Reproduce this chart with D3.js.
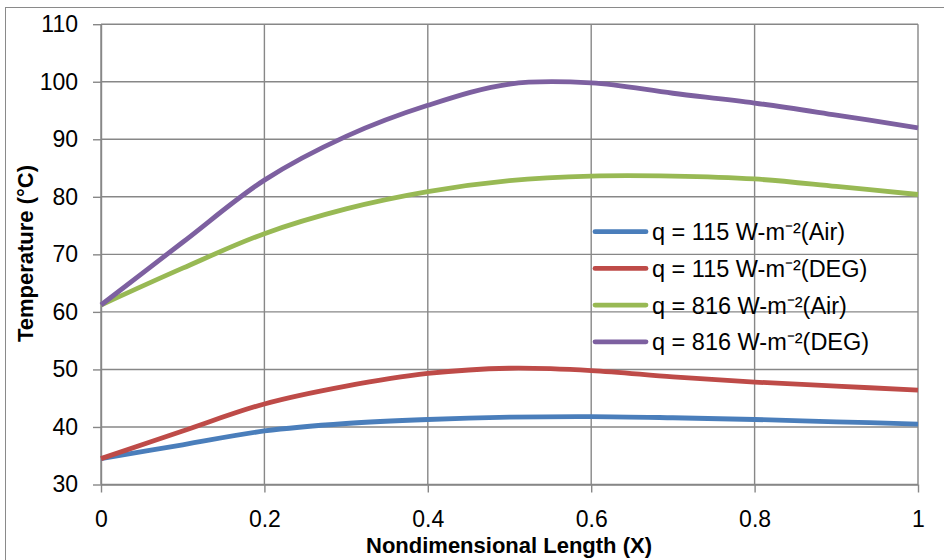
<!DOCTYPE html>
<html>
<head>
<meta charset="utf-8">
<script src="https://cdn.jsdelivr.net/npm/d3@7"></script>
<style>
  body { margin: 0; background: #fff; }
  svg { display: block; font-family: "Liberation Sans", Arial, sans-serif; }
</style>
</head>
<body>
<svg id="chart" width="944" height="560"></svg>
<script>
// values
var xs = [0, 0.1, 0.2, 0.3, 0.4, 0.5, 0.6, 0.7, 0.8, 0.9, 1.0];
var air115 = [34.5, 36.9, 39.3, 40.6, 41.3, 41.7, 41.8, 41.6, 41.3, 40.9, 40.5];
var deg115 = [34.5, 39.3, 44.0, 47.1, 49.3, 50.2, 49.8, 48.7, 47.8, 47.1, 46.4];
var air816 = [61.2, 67.6, 73.6, 77.9, 80.9, 82.8, 83.6, 83.6, 83.1, 81.8, 80.4];
var deg816 = [61.2, 72.1, 82.9, 90.5, 95.9, 99.6, 99.8, 98.0, 96.3, 94.2, 92.0];

var seriesNames = ['q = 115 W-m\u207B\u00B2(Air)', 'q = 115 W-m\u207B\u00B2(DEG)',
                   'q = 816 W-m\u207B\u00B2(Air)', 'q = 816 W-m\u207B\u00B2(DEG)'];
var seriesValues = [air115, deg115, air816, deg816];
var seriesColors = ['#4a7ebb', '#be4b48', '#98b954', '#7d60a0'];

var xTicks = [0, 0.2, 0.4, 0.6, 0.8, 1];
var yTicks = [30, 40, 50, 60, 70, 80, 90, 100, 110];

var svg = d3.select('#chart');
var gridColor = '#878787';

// outer chart border
svg.append('rect')
    .attr('x', 5.5).attr('y', 7.5)
    .attr('width', 960).attr('height', 580)
    .attr('fill', 'none')
    .attr('stroke', '#8a8a8a')
    .attr('stroke-width', 1);

var xScale = d3.scaleLinear().domain([0, 1]).range([101, 918]);
var yScale = d3.scaleLinear().domain([30, 110]).range([484.5, 24.2]);

var grid = svg.append('g');
grid.selectAll('line.h')
    .data(yTicks)
    .enter()
    .append('line')
      .attr('x1', xScale(0)).attr('x2', xScale(1))
      .attr('y1', function(d) { return yScale(d); })
      .attr('y2', function(d) { return yScale(d); })
      .attr('stroke', gridColor).attr('stroke-width', 1.4);
grid.selectAll('line.v')
    .data(xTicks)
    .enter()
    .append('line')
      .attr('y1', yScale(30)).attr('y2', yScale(110))
      .attr('x1', function(d) { return xScale(d); })
      .attr('x2', function(d) { return xScale(d); })
      .attr('stroke', gridColor).attr('stroke-width', 1.4);

var xAxis = d3.axisBottom(xScale)
    .tickValues(xTicks)
    .tickFormat(d3.format('~g'))
    .tickSize(8).tickSizeOuter(0).tickPadding(18);
var yAxis = d3.axisLeft(yScale)
    .tickValues(yTicks)
    .tickSize(8).tickSizeOuter(0).tickPadding(15);

var gx = svg.append('g')
    .attr('transform', 'translate(0,' + yScale(30) + ')')
    .call(xAxis);
var gy = svg.append('g')
    .attr('transform', 'translate(' + xScale(0) + ',0)')
    .call(yAxis);

[gx, gy].forEach(function(g) {
    g.select('.domain').attr('stroke', gridColor).attr('stroke-width', 1.4);
    g.selectAll('.tick line').attr('stroke', gridColor).attr('stroke-width', 1.4);
    g.selectAll('.tick text')
        .attr('fill', '#000')
        .style('font-size', '23px')
        .style('font-family', '"Liberation Sans", Arial, sans-serif');
});

var line = d3.line()
    .x(function(d) { return xScale(d[0]); })
    .y(function(d) { return yScale(d[1]); })
    .curve(d3.curveCatmullRom.alpha(0.5));

svg.append('g')
  .selectAll('path')
  .data(seriesValues)
  .enter()
  .append('path')
    .attr('d', function(vals) { return line(d3.zip(xs, vals)); })
    .attr('fill', 'none')
    .attr('stroke', function(d, i) { return seriesColors[i]; })
    .attr('stroke-width', 4.8)
    .attr('stroke-linejoin', 'round')
    .attr('stroke-linecap', 'butt');

// legend
var legend = svg.append('g');
var rows = legend.selectAll('g')
    .data(seriesNames)
    .enter()
    .append('g')
      .attr('transform', function(d, i) { return 'translate(0,' + (231.7 + i * 36.7) + ')'; });
rows.append('line')
    .attr('x1', 595).attr('x2', 646)
    .attr('stroke', function(d, i) { return seriesColors[i]; })
    .attr('stroke-width', 4.8)
    .attr('stroke-linecap', 'round');
rows.append('text')
    .attr('x', 652)
    .attr('dy', '0.36em')
    .style('font-size', '23.5px')
    .text(function(d) { return d; });

// axis titles
svg.append('text')
    .attr('x', 509).attr('y', 553)
    .attr('text-anchor', 'middle')
    .style('font-size', '22px')
    .style('font-weight', 'bold')
    .text('Nondimensional Length (X)');

svg.append('text')
    .attr('transform', 'translate(33,253.5) rotate(-90)')
    .attr('text-anchor', 'middle')
    .style('font-size', '22px')
    .style('font-weight', 'bold')
    .text('Temperature (\u00B0C)');
</script>
</body>
</html>
